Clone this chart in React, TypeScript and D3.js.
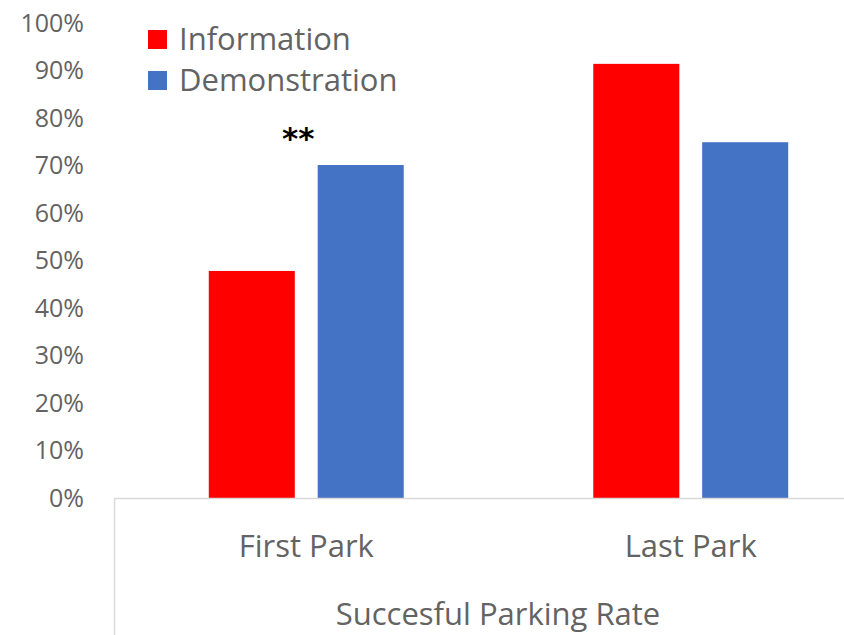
import React, { useEffect, useRef } from "react";
import * as d3 from "d3";

const categories = ["First Park", "Last Park"];
const seriesNames = ["Information", "Demonstration"];
const information = [0.478, 0.914];
const demonstration = [0.701, 0.749];
const yTicks = [0, 0.1, 0.2, 0.3, 0.4, 0.5, 0.6, 0.7, 0.8, 0.9, 1.0];
const axisTitle = "Succesful Parking Rate";
const annotations = [{ category: "First Park", text: "**" }];

const colors = ["#ff0000", "#4472c4"];

const App: React.FC = () => {
  const svgRef = useRef<SVGSVGElement>(null);

  useEffect(() => {
    const width = 844;
    const height = 635;
    const font = "'Open Sans', 'Liberation Sans', sans-serif";
    const textColor = "#636363";

    const svg = d3.select(svgRef.current);
    svg.selectAll("*").remove();

    const x0 = d3
      .scaleBand()
      .domain(categories)
      .range([114, 883])
      .paddingInner(0.493)
      .paddingOuter(0.2465);

    const x1 = d3
      .scaleBand()
      .domain(seriesNames)
      .range([0, x0.bandwidth()])
      .paddingInner(0.21);

    const y = d3.scaleLinear().domain([0, 1]).range([498, 23]);

    // y tick labels, no gridlines
    const yAxis = svg
      .append("g")
      .attr("transform", "translate(84,0)")
      .call(
        d3
          .axisLeft(y)
          .tickValues(yTicks)
          .tickFormat(d3.format(".0%"))
          .tickSize(0)
          .tickPadding(0)
      );
    yAxis.select(".domain").remove();
    yAxis
      .selectAll("text")
      .attr("font-family", font)
      .attr("font-size", 25)
      .attr("fill", textColor);

    // bars
    const rows = categories.map((c, i) => ({
      category: c,
      values: [information[i], demonstration[i]],
    }));

    const groups = svg
      .append("g")
      .selectAll("g")
      .data(rows)
      .enter()
      .append("g")
      .attr("transform", (d) => `translate(${x0(d.category)},0)`);

    groups
      .selectAll("rect")
      .data((d) => d.values.map((v, j) => ({ name: seriesNames[j], value: v, j })))
      .enter()
      .append("rect")
      .attr("x", (d) => x1(d.name)!)
      .attr("y", (d) => y(d.value))
      .attr("width", x1.bandwidth())
      .attr("height", (d) => y(0) - y(d.value))
      .attr("fill", (d) => colors[d.j]);

    // category axis box lines
    svg
      .append("line")
      .attr("x1", 114)
      .attr("x2", width)
      .attr("y1", y(0) + 0.5)
      .attr("y2", y(0) + 0.5)
      .attr("stroke", "#d9d9d9")
      .attr("stroke-width", 1.5);
    svg
      .append("line")
      .attr("x1", 114.5)
      .attr("x2", 114.5)
      .attr("y1", y(0))
      .attr("y2", height)
      .attr("stroke", "#d9d9d9")
      .attr("stroke-width", 1.5);

    // category labels
    svg
      .append("g")
      .selectAll("text")
      .data(categories)
      .enter()
      .append("text")
      .attr("x", (d) => x0(d)! + x0.bandwidth() / 2)
      .attr("y", 557)
      .attr("text-anchor", "middle")
      .attr("font-family", font)
      .attr("font-size", 31)
      .attr("fill", textColor)
      .text((d) => d);

    svg
      .append("text")
      .attr("x", 498)
      .attr("y", 625)
      .attr("text-anchor", "middle")
      .attr("font-family", font)
      .attr("font-size", 31)
      .attr("fill", textColor)
      .text(axisTitle);

    // significance marker
    svg
      .append("g")
      .selectAll("text")
      .data(annotations)
      .enter()
      .append("text")
      .attr("x", (d) => x0(d.category)! + x0.bandwidth() / 2 - 8)
      .attr("y", 149)
      .attr("text-anchor", "middle")
      .attr("font-family", "'DejaVu Sans', sans-serif")
      .attr("font-weight", "bold")
      .attr("font-size", 31)
      .attr("fill", "#000")
      .text((d) => d.text);

    // legend
    const legend = svg
      .append("g")
      .selectAll("g")
      .data(seriesNames)
      .enter()
      .append("g")
      .attr("transform", (d, i) => `translate(148,${30 + i * 41})`);
    legend
      .append("rect")
      .attr("width", 19)
      .attr("height", 19)
      .attr("fill", (d, i) => colors[i]);
    legend
      .append("text")
      .attr("x", 31)
      .attr("y", 20)
      .attr("font-family", font)
      .attr("font-size", 31)
      .attr("fill", textColor)
      .text((d) => d);
  }, []);

  return (
    <div style={{ position: "absolute", left: 0, top: 0 }}>
      <svg ref={svgRef} width={844} height={635} style={{ display: "block" }}></svg>
    </div>
  );
};

export default App;
